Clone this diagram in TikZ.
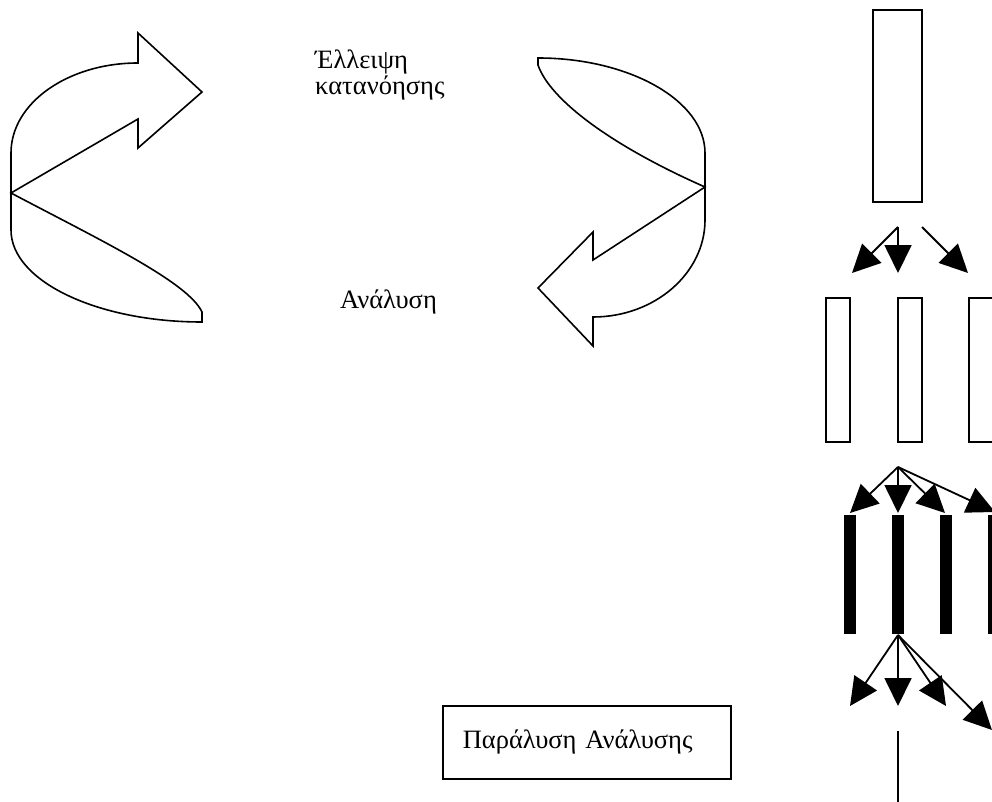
\documentclass[tikz,border=0pt]{standalone}
\usepackage{fontspec}
\setmainfont{Liberation Serif}
\usetikzlibrary{arrows.meta}

\begin{document}
\begin{tikzpicture}
[x=1pt, y=-1pt,
 OpenBar/.style={rectangle,
    draw, line width=1.7pt, inner sep=0pt},
 FullBar/.style={rectangle,
    fill=black, inner sep=0pt,
    minimum width=12pt, minimum height=119pt},
 Flow/.style={line width=1.8pt,
    -{Triangle[length=28pt,width=27pt]}},
 Outline/.style={line width=1.6pt, line join=miter},
 Label/.style={font=\fontsize{26.5}{30}\selectfont,
    inner sep=0pt, anchor=base west}]
\useasboundingbox (0,0) rectangle (992,802);

% curved arrows
\draw[Outline] (11,193) -- (138,119) -- (138,148) -- (202,92) -- (138,33) -- (138,63)
    .. controls (68,63) and (11,103) .. (11,153) -- (11,230)
    .. controls (11,281) and (97,322) .. (202,322) -- (202,312)
    .. controls (188,282) and (100,240) .. cycle;
\draw[Outline] (705,187) -- (593,260) -- (593,232) -- (538,288) -- (593,346) -- (593,317)
    .. controls (655,317) and (705,273) .. (705,220) -- (705,153)
    .. controls (705,101) and (630,58) .. (538,58) -- (538,65)
    .. controls (550,100) and (612,146) .. cycle;

% labels
\node[Label] (lack_1) at (315,69) {Έλλειψη};
\node[Label] (lack_2) at (315,95) {κατανόησης};
\node[Label] (analysis) at (340,308) {Ανάλυση};
\node[draw, line width=1.6pt, anchor=north west,
    inner xsep=20pt, text width=248pt, minimum height=73pt, align=left,
    font=\fontsize{26.5}{30}\selectfont] (paralysis) at (442,705) {Παράλυση Ανάλυσης};

% bars
\node[OpenBar, minimum width=49, minimum height=192] (top) at (897.5,106) {};
\foreach \x/\c in {1/838, 2/910, 3/981}
    \node[OpenBar, minimum width=24, minimum height=144] (mid_\x) at (\c,370){};
\foreach \x in {1,...,4}
    \node[FullBar] (bar_\x) at (802+48*\x, 574.5){};

% splits
\coordinate (s1_a) at (898,227);
\coordinate (s1_b) at (922,227);
\coordinate (s2) at (898,467);
\coordinate (s3) at (898,635);
\coordinate (t1_1) at (852,273);
\coordinate (t1_2) at (898,273);
\coordinate (t1_3) at (968,273);
\draw[Flow] (s1_a) -- (t1_1);
\draw[Flow] (s1_a) -- (t1_2);
\draw[Flow] (s1_b) -- (t1_3);
\foreach \x/\px/\py in {1/850/513, 2/898/513, 3/945/513, 4/995/512}{
    \coordinate (t2_\x) at (\px,\py);
    \draw[Flow] (s2) -- (t2_\x);}
\foreach \x/\px/\py in {1/850/706, 2/898/706, 3/946/706, 4/992/730}{
    \coordinate (t3_\x) at (\px,\py);
    \draw[Flow] (s3) -- (t3_\x);}
\coordinate (stem_a) at (898,731);
\coordinate (stem_b) at (898,805);
\draw[line width=1.3pt] (stem_a) -- (stem_b);
\end{tikzpicture}
\end{document}
